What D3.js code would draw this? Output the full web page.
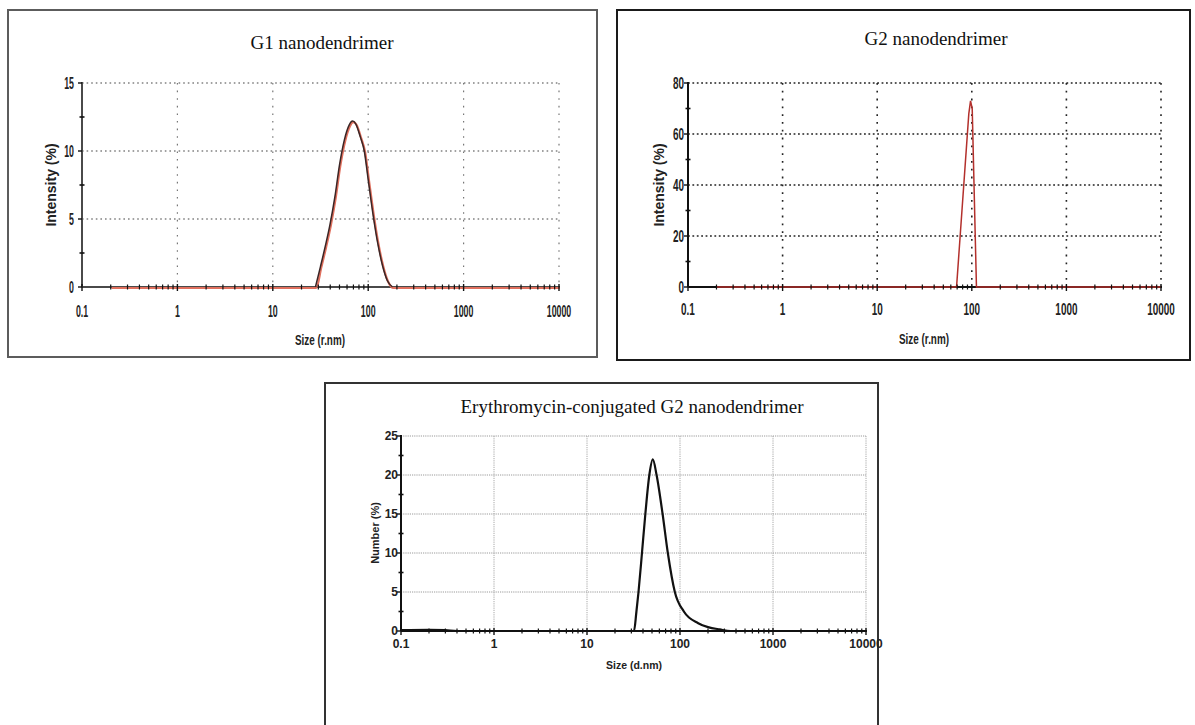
<!DOCTYPE html>
<html>
<head>
<meta charset="utf-8">
<script src="https://cdn.jsdelivr.net/npm/d3@7/dist/d3.min.js"></script>
<style>
  html, body { margin: 0; padding: 0; background: #fff; }
  svg { display: block; }
  .title { font-family: "Liberation Serif", "Times New Roman", serif; font-size: 19px; fill: #111; }
  .lbl { font-family: "Liberation Sans", Arial, sans-serif; font-weight: bold; fill: #222; }
</style>
</head>
<body>
<svg id="chart" width="1195" height="725"></svg>
<script>
// ---------------------------------------------------------------------------
// Size distributions (DLS)
// ---------------------------------------------------------------------------
const X_TICKS  = [0.1, 1, 10, 100, 1000, 10000];
const X_LABELS = ["0.1", "1", "10", "100", "1000", "10000"];

// G1 nanodendrimer — intensity (%) vs size (r.nm)
const g1Size      = [0.2, 1, 10, 28, 31.6, 35.5, 39.8, 44.7, 50.1, 56.2, 63.1, 68.5, 74, 83, 91, 100, 112, 126, 141, 158, 180, 1000, 10000];
const g1Intensity = [0, 0, 0, 0, 1.5, 3.0, 4.6, 6.6, 9.0, 10.8, 11.9, 12.2, 12.0, 11.0, 10.0, 7.9, 5.4, 3.2, 1.6, 0.5, 0, 0, 0];
const g1YTicks    = [0, 5, 10, 15];

// G2 nanodendrimer — intensity (%) vs size (r.nm)
const g2Size      = [0.2, 10, 69, 93, 97, 101, 112, 1000, 10000];
const g2Intensity = [0, 0, 0, 68, 73, 70, 0, 0, 0];
const g2YTicks    = [0, 20, 40, 60, 80];

// Erythromycin-conjugated G2 — number (%) vs size (d.nm)
const eryNumSize  = [0.1, 0.2, 0.3, 0.4, 1, 10, 32, 34, 35.8, 39, 42.4, 46.8, 51, 56, 65, 74, 88, 110, 157, 200, 268, 350, 10000];
const eryNumber   = [0.1, 0.15, 0.1, 0, 0, 0, 0, 2.5, 5, 10, 15, 20, 22, 20, 15, 10, 5, 2.5, 1, 0.5, 0.2, 0, 0];
const eryYTicks   = [0, 5, 10, 15, 20, 25];

const svg = d3.select("#chart");

const PANELS = [
  {
    title: "G1 nanodendrimer", titleX: 322, titleY: 49,
    box: [8, 10, 589, 347], boxColor: "#5c5c5c",
    left: 82, right: 559, top: 83, bottom: 287,
    yTicks: g1YTicks, yLabel: "Intensity (%)", yLabelX: 51, yLabelY: 185,
    xLabel: "Size (r.nm)", xLabelX: 320, xLabelY: 345, tickY: 317, yTickGap: 8,
    sx: 0.55, tickFont: 16, axisFont: 15, yLabelFont: 14,
    hGrid: { color: "#444", dash: "1.6,3", w: 1.2 },
    vGrid: { color: "#777", dash: "1.6,6", w: 1.2 },
    axisColor: "#4a4a4a",
    sizes: g1Size, values: g1Intensity, kind: "g1",
  },
  {
    title: "G2 nanodendrimer", titleX: 936, titleY: 45,
    box: [617, 10, 573, 350], boxColor: "#1a1a1a",
    left: 688, right: 1161, top: 83, bottom: 287,
    yTicks: g2YTicks, yLabel: "Intensity (%)", yLabelX: 659, yLabelY: 185,
    xLabel: "Size (r.nm)", xLabelX: 924, xLabelY: 344, tickY: 315, yTickGap: 4,
    sx: 0.62, tickFont: 16, axisFont: 15, yLabelFont: 14,
    hGrid: { color: "#222", dash: "1.8,2.6", w: 1.6 },
    vGrid: { color: "#222", dash: "1.8,6", w: 1.6 },
    axisColor: "#111",
    sizes: g2Size, values: g2Intensity, kind: "g2",
  },
  {
    title: "Erythromycin-conjugated G2 nanodendrimer", titleX: 632, titleY: 413,
    box: [325, 383, 553, 380], boxColor: "#333",
    left: 401, right: 866, top: 436, bottom: 631,
    yTicks: eryYTicks, yLabel: "Number (%)", yLabelX: 375, yLabelY: 533,
    xLabel: "Size (d.nm)", xLabelX: 634, xLabelY: 669, tickY: 648, yTickGap: 3,
    sx: 1, tickFont: 12, axisFont: 10.5, yLabelFont: 11,
    hGrid: { color: "#9a9a9a", dash: "1.2,1", w: 1 },
    vGrid: { color: "#a8a8a8", dash: "1.2,1", w: 1 },
    axisColor: "#111",
    sizes: eryNumSize, values: eryNumber, kind: "ery",
  },
];

// text helper: horizontally condensed labels like the instrument printout
function condensed(g, x, y, text, size, sx, anchor, rotate) {
  const t = g.append("g")
    .attr("transform", `translate(${x},${y})${rotate ? " rotate(-90)" : ""} scale(${sx},1)`);
  t.append("text")
    .attr("class", "lbl")
    .attr("text-anchor", anchor)
    .attr("font-size", size)
    .text(text);
}

PANELS.forEach(drawPanel);

function drawPanel(p) {
  const g = svg.append("g");
  const [bx, by, bw, bh] = p.box;

  g.append("rect")
    .attr("x", bx).attr("y", by).attr("width", bw).attr("height", bh)
    .attr("fill", "#fff").attr("stroke", p.boxColor).attr("stroke-width", 2);

  g.append("text").attr("class", "title")
    .attr("x", p.titleX).attr("y", p.titleY)
    .attr("text-anchor", "middle").text(p.title);

  const x = d3.scaleLog().domain([0.1, 10000]).range([p.left, p.right]);
  const yMax = d3.max(p.yTicks);
  const y = d3.scaleLinear().domain([0, yMax]).range([p.bottom, p.top]);

  // grid
  g.selectAll(null).data(p.yTicks.filter((d) => d > 0)).join("line")
    .attr("x1", p.left).attr("x2", p.right)
    .attr("y1", (d) => y(d)).attr("y2", (d) => y(d))
    .attr("stroke", p.hGrid.color).attr("stroke-width", p.hGrid.w)
    .attr("stroke-dasharray", p.hGrid.dash);
  g.selectAll(null).data(X_TICKS.slice(1)).join("line")
    .attr("x1", (d) => x(d)).attr("x2", (d) => x(d))
    .attr("y1", p.top).attr("y2", p.bottom)
    .attr("stroke", p.vGrid.color).attr("stroke-width", p.vGrid.w)
    .attr("stroke-dasharray", p.vGrid.dash);

  // axes
  g.append("line").attr("x1", p.left).attr("x2", p.left)
    .attr("y1", p.top - 1).attr("y2", p.bottom)
    .attr("stroke", p.axisColor).attr("stroke-width", 2);
  g.append("line").attr("x1", p.left).attr("x2", p.right + 1)
    .attr("y1", p.bottom).attr("y2", p.bottom)
    .attr("stroke", p.axisColor).attr("stroke-width", 2);

  // series
  const line = d3.line()
    .x((d) => x(d[0])).y((d) => y(d[1]))
    .curve(p.kind === "g2" ? d3.curveLinear : d3.curveMonotoneX);
  const pts = p.sizes.map((s, i) => [s, p.values[i]]);

  if (p.kind === "g1") {
    g.append("path").attr("d", line(pts))
      .attr("transform", "translate(0.8,1)")
      .attr("fill", "none").attr("stroke", "#e0705e").attr("stroke-width", 2.2);
    const first = pts.findIndex((d) => d[1] > 0) - 1;
    const last = pts.length - 1 - [...pts].reverse().findIndex((d) => d[1] > 0) + 1;
    g.append("path").attr("d", line(pts.slice(first, last + 1)))
      .attr("fill", "none").attr("stroke", "#3a2626").attr("stroke-width", 1.5);
  } else if (p.kind === "g2") {
    g.append("path").attr("d", line(pts))
      .attr("fill", "none").attr("stroke", "#b3302c").attr("stroke-width", 1.5);
  } else {
    g.append("path").attr("d", line(pts))
      .attr("fill", "none").attr("stroke", "#111").attr("stroke-width", 2.2);
  }

  // x minor ticks (log subdivisions)
  const minor = x.ticks().filter((d) => !X_TICKS.includes(d));
  g.selectAll(null).data(minor).join("line")
    .attr("x1", (d) => x(d)).attr("x2", (d) => x(d))
    .attr("y1", p.bottom - 2.5).attr("y2", p.bottom + 2.5)
    .attr("stroke", "#111").attr("stroke-width", 1.2);
  g.selectAll(null).data(X_TICKS).join("line")
    .attr("x1", (d) => x(d)).attr("x2", (d) => x(d))
    .attr("y1", p.bottom - 3).attr("y2", p.bottom + 4)
    .attr("stroke", "#111").attr("stroke-width", 1.4);

  // y ticks: majors to the left, minors at midpoints
  const step = p.yTicks[1] - p.yTicks[0];
  const yMinor = p.yTicks.slice(1).map((d) => d - step / 2);
  g.selectAll(null).data(p.yTicks).join("line")
    .attr("x1", p.left - 4).attr("x2", p.left)
    .attr("y1", (d) => y(d)).attr("y2", (d) => y(d))
    .attr("stroke", "#111").attr("stroke-width", 1.4);
  g.selectAll(null).data(yMinor).join("line")
    .attr("x1", p.left - 2.5).attr("x2", p.left + 2.5)
    .attr("y1", (d) => y(d)).attr("y2", (d) => y(d))
    .attr("stroke", "#111").attr("stroke-width", 1.6);

  // tick labels
  X_TICKS.forEach((t, i) => {
    condensed(g, x(t), p.tickY, X_LABELS[i], p.tickFont, p.sx, "middle");
  });
  p.yTicks.forEach((t) => {
    condensed(g, p.left - p.yTickGap, y(t) + p.tickFont * 0.36, String(t), p.tickFont, p.sx, "end");
  });

  // axis titles
  condensed(g, p.xLabelX, p.xLabelY, p.xLabel, p.axisFont, p.sx === 1 ? 1 : 0.66, "middle");
  condensed(g, p.yLabelX + p.yLabelFont * 0.36, p.yLabelY, p.yLabel, p.yLabelFont, 1, "middle", true);
}
</script>
</body>
</html>
